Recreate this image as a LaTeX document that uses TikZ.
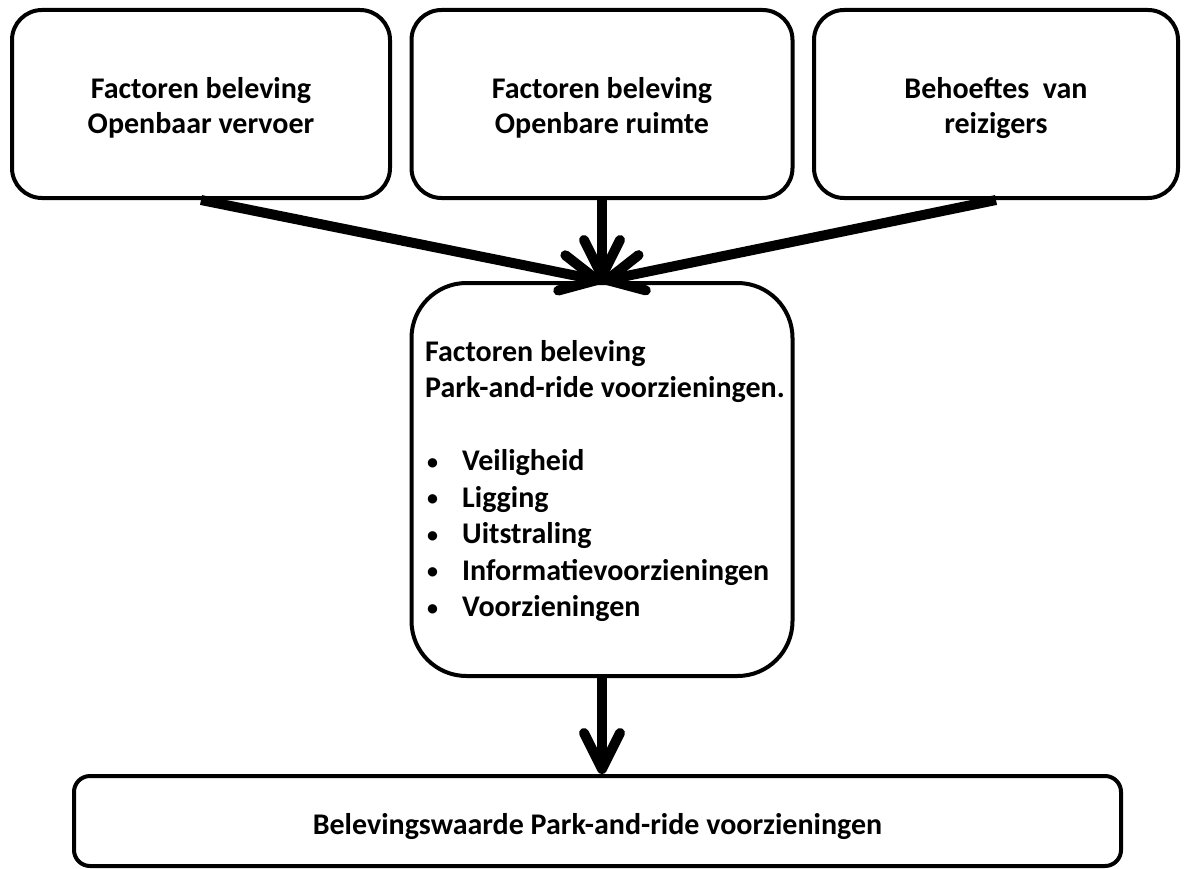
\documentclass[tikz,border=0pt]{standalone}
\usepackage{fontspec}
\setmainfont{Carlito}
\usetikzlibrary{arrows.meta}
\tikzset{
  box/.style={draw, line width=4pt, rounded corners=30pt, inner sep=0pt},
  boxtext/.style={font=\bfseries\fontsize{30}{35}\selectfont, align=center, inner sep=0pt},
  flow/.style={line width=10pt, -{Straight Barb[length=36pt,width=36pt,round]}},
  listtext/.style={font=\bfseries\fontsize{30}{36.5}\selectfont, align=left, inner sep=0pt},
}
\newcommand{\bitem}[1]{\makebox[37pt][l]{\hspace*{2pt}\raisebox{1.5pt}{\fontsize{22}{22}\selectfont\textbullet}}#1}
\begin{document}
\begin{tikzpicture}[x=1pt,y=-1pt]
\useasboundingbox[fill=white] (0,0) rectangle (1190,869);
\node[box, minimum width=378pt, minimum height=188pt] (b1) at (201,104) {};
\node[box, minimum width=381pt, minimum height=188pt] (b2) at (602,104) {};
\node[box, minimum width=364pt, minimum height=188pt] (b3) at (996,104) {};
\node[boxtext] (t1) at ([yshift=-4pt]b1.center) {Factoren beleving\\Openbaar vervoer};
\node[boxtext] (t2) at ([yshift=-4pt]b2.center) {Factoren beleving\\Openbare ruimte};
\node[boxtext] (t3) at ([yshift=-4pt]b3.center) {Behoeftes\ \ van\\reizigers};
\node[box, rounded corners=55pt, minimum width=381pt, minimum height=393pt] (mid) at (602,479.5) {};
\node[listtext, anchor=west] (midtext) at (425,481) {Factoren beleving\\Park-and-ride voorzieningen.\\[36.5pt]
\bitem{Veiligheid}\\\bitem{Ligging}\\\bitem{Uitstraling}\\\bitem{Informatievoorzieningen}\\\bitem{Voorzieningen}};
\node[box, rounded corners=16pt, minimum width=1047pt, minimum height=90pt] (bot) at (597.5,821) {};
\node[boxtext] (bottext) at ([yshift=-6pt]bot.center) {Belevingswaarde Park-and-ride voorzieningen};
\draw[flow] (b1.south) -- (mid.north);
\draw[flow] (b2.south) -- (mid.north);
\draw[flow] (b3.south) -- (mid.north);
\draw[flow] (mid.south) -- (mid.south |- bot.north);
\end{tikzpicture}
\end{document}
